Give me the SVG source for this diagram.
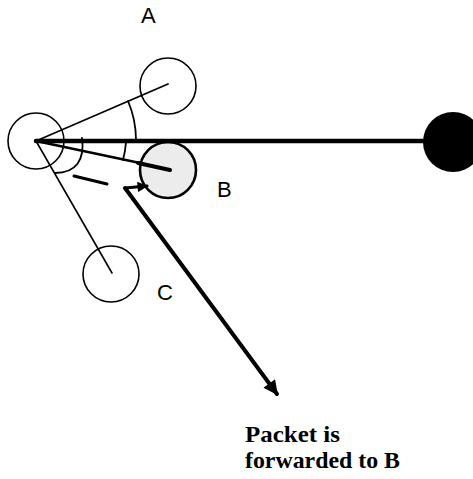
<svg xmlns="http://www.w3.org/2000/svg" width="473" height="479" viewBox="0 0 473 479">
<style>
.node{fill:#fff;stroke:#000;stroke-width:1.6}
.lbl{font-family:"Liberation Sans",Arial,sans-serif;font-size:22px;fill:#000}
.note{font-family:"Liberation Serif","Times New Roman",serif;font-size:23px;font-weight:bold;fill:#000}
.thin{stroke:#000;fill:none;stroke-linecap:round}
</style>
<defs>
<marker id="ah" viewBox="0 0 10 10" refX="9" refY="5" markerWidth="4.5" markerHeight="3.6" orient="auto" markerUnits="strokeWidth">
<path d="M0,0 L10,5 L0,10 z" fill="#000"/>
</marker>
<marker id="ah2" viewBox="0 0 10 10" refX="9" refY="5" markerWidth="4" markerHeight="3.5" orient="auto" markerUnits="strokeWidth">
<path d="M0,0 L10,5 L0,10 z" fill="#000"/>
</marker>
</defs>
<rect width="473" height="479" fill="#fff"/>
<g id="nodeS"><circle class="node" cx="36" cy="141" r="28"/></g>
<g id="nodeA"><circle class="node" cx="168" cy="86" r="28"/><text class="lbl" x="141" y="23">A</text></g>
<g id="nodeB"><circle cx="168" cy="170" r="28" fill="#ececec" stroke="#000" stroke-width="2.6"/><text class="lbl" x="217" y="197">B</text></g>
<g id="nodeC"><circle class="node" cx="111" cy="274" r="28"/><text class="lbl" x="157" y="300">C</text></g>
<g id="nodeD"><circle cx="453" cy="142" r="30" fill="#000"/></g>
<g id="connectors">
<line class="thin" x1="36" y1="141" x2="424" y2="141" stroke-width="4.5"/>
<line class="thin" x1="36" y1="141" x2="168" y2="84" stroke-width="1.8"/>
<line class="thin" x1="36" y1="141" x2="112" y2="273" stroke-width="1.6"/>
<line class="thin" x1="36" y1="141" x2="140" y2="163" stroke-width="2.4"/>
<line class="thin" x1="138" y1="163" x2="170" y2="170" stroke-width="4"/>
<path class="thin" d="M128 101 A100 100 0 0 1 136 140" stroke-width="1.8"/>
<path class="thin" d="M126 142 A90 90 0 0 1 123 160" stroke-width="1.8"/>
<path class="thin" d="M82 138 C 85 160 76 173 55 173" stroke-width="1.8"/>
<line class="thin" x1="74" y1="176" x2="107" y2="184" stroke-width="3"/>
<line class="thin" x1="125" y1="188" x2="277" y2="394" stroke-width="4" marker-end="url(#ah)"/>
<line class="thin" x1="125" y1="188" x2="147" y2="186" stroke-width="3" marker-end="url(#ah2)"/>
</g>
<text class="note" x="245" y="442" textLength="95" lengthAdjust="spacingAndGlyphs">Packet is</text>
<text class="note" x="245" y="468" textLength="155" lengthAdjust="spacingAndGlyphs">forwarded to B</text>
</svg>
